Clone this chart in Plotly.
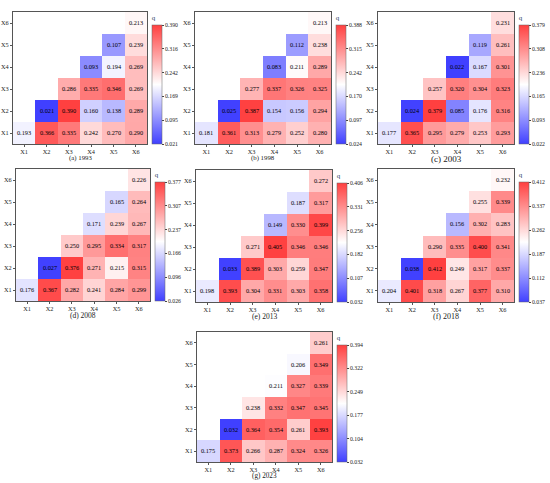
import plotly.graph_objects as go

labels = ["X1", "X2", "X3", "X4", "X5", "X6"]
titles = ["(a) 1993", "(b) 1998", "(c) 2003", "(d) 2008", "(e) 2013", "(f) 2018", "(g) 2023"]

q1993 = [[0.193, 0.366, 0.335, 0.242, 0.270, 0.290],
         [None, 0.021, 0.390, 0.160, 0.138, 0.289],
         [None, None, 0.286, 0.335, 0.346, 0.269],
         [None, None, None, 0.093, 0.194, 0.269],
         [None, None, None, None, 0.107, 0.239],
         [None, None, None, None, None, 0.213]]
q1998 = [[0.181, 0.361, 0.313, 0.279, 0.252, 0.280],
         [None, 0.025, 0.387, 0.154, 0.156, 0.294],
         [None, None, 0.277, 0.337, 0.326, 0.325],
         [None, None, None, 0.083, 0.211, 0.289],
         [None, None, None, None, 0.112, 0.238],
         [None, None, None, None, None, 0.213]]
q2003 = [[0.177, 0.365, 0.295, 0.279, 0.253, 0.293],
         [None, 0.024, 0.379, 0.085, 0.176, 0.316],
         [None, None, 0.257, 0.320, 0.304, 0.323],
         [None, None, None, 0.022, 0.167, 0.301],
         [None, None, None, None, 0.119, 0.261],
         [None, None, None, None, None, 0.231]]
q2008 = [[0.176, 0.367, 0.282, 0.241, 0.284, 0.299],
         [None, 0.027, 0.376, 0.271, 0.215, 0.315],
         [None, None, 0.250, 0.295, 0.334, 0.317],
         [None, None, None, 0.171, 0.239, 0.267],
         [None, None, None, None, 0.165, 0.264],
         [None, None, None, None, None, 0.226]]
q2013 = [[0.198, 0.393, 0.304, 0.331, 0.303, 0.358],
         [None, 0.033, 0.389, 0.303, 0.259, 0.347],
         [None, None, 0.271, 0.405, 0.346, 0.346],
         [None, None, None, 0.149, 0.330, 0.399],
         [None, None, None, None, 0.187, 0.317],
         [None, None, None, None, None, 0.272]]
q2018 = [[0.204, 0.401, 0.318, 0.267, 0.377, 0.310],
         [None, 0.038, 0.412, 0.249, 0.317, 0.337],
         [None, None, 0.290, 0.335, 0.400, 0.341],
         [None, None, None, 0.156, 0.302, 0.283],
         [None, None, None, None, 0.255, 0.339],
         [None, None, None, None, None, 0.232]]
q2023 = [[0.175, 0.373, 0.266, 0.287, 0.324, 0.326],
         [None, 0.032, 0.364, 0.354, 0.261, 0.393],
         [None, None, 0.238, 0.332, 0.347, 0.345],
         [None, None, None, 0.211, 0.327, 0.339],
         [None, None, None, None, 0.206, 0.349],
         [None, None, None, None, None, 0.261]]
panels = [q1993, q1998, q2003, q2008, q2013, q2018, q2023]

# colorbar ranges (from colorbar labels)
cmins = [0.021, 0.024, 0.022, 0.026, 0.032, 0.037, 0.032]
cmaxs = [0.390, 0.388, 0.379, 0.377, 0.406, 0.412, 0.394]
cbar_ticks = [
    ["0.021", "0.095", "0.169", "0.242", "0.316", "0.390"],
    ["0.024", "0.097", "0.170", "0.242", "0.315", "0.388"],
    ["0.022", "0.093", "0.165", "0.236", "0.308", "0.379"],
    ["0.026", "0.096", "0.166", "0.237", "0.307", "0.377"],
    ["0.032", "0.107", "0.182", "0.256", "0.331", "0.406"],
    ["0.037", "0.112", "0.187", "0.262", "0.337", "0.412"],
    ["0.032", "0.104", "0.177", "0.249", "0.322", "0.394"],
]

W, H = 550, 483
# panel boxes in pixels: left, right, top, bottom
boxes = [
    (13, 147, 12, 144),
    (195, 331, 12, 144),
    (378, 514, 12, 144),
    (16, 150, 169, 301),
    (196, 332, 170, 302),
    (378, 514, 169, 302),
    (197, 332, 332, 462),
]
title_sizes = [6.8, 6.8, 9, 7.5, 7.5, 8, 7.2]

FONT = "Liberation Serif"
cscale = [[0.0, "rgb(64,64,255)"], [0.5, "rgb(255,255,255)"], [1.0, "rgb(255,64,64)"]]

fig = go.Figure()
layout = dict()
annotations = []
for i, (z, box) in enumerate(zip(panels, boxes)):
    l, r, t, b = box
    n = "" if i == 0 else str(i + 1)
    text = [["" if v is None else f"{v:.3f}" for v in row] for row in z]
    vmin, vmax = cmins[i], cmaxs[i]
    tickvals = [vmin + (vmax - vmin) * k / 5 for k in range(6)]
    fig.add_trace(go.Heatmap(
        z=z, x=labels, y=labels, text=text, texttemplate="%{text}",
        textfont=dict(family=FONT, size=6.3, color="black"),
        colorscale=cscale, zmin=vmin, zmax=vmax, hoverongaps=False,
        xaxis="x" + n, yaxis="y" + n, xgap=0, ygap=0,
        colorbar=dict(
            x=(r + 5) / W, xanchor="left", xref="paper", xpad=0, ypad=0,
            y=1 - (t + b) / 2 / H, yanchor="middle",
            len=(b - t) / H, lenmode="fraction", thickness=10,
            outlinewidth=0.5, outlinecolor="#666",
            tickvals=tickvals, ticktext=cbar_ticks[i], ticks="outside", ticklen=2,
            tickfont=dict(family=FONT, size=5.8, color="#222"),
            title=dict(text="q", side="top", font=dict(family=FONT, size=7)),
        ),
    ))
    ax = dict(domain=[l / W, r / W], anchor="y" + n, showline=True, mirror=True,
              linecolor="#555", linewidth=1, ticks="outside", ticklen=2, tickcolor="#555",
              ticklabelstandoff=-1,
              tickfont=dict(family=FONT, size=6.3, color="#222"), showgrid=False, zeroline=False)
    ay = dict(domain=[1 - b / H, 1 - t / H], anchor="x" + n, showline=True, mirror=True,
              linecolor="#555", linewidth=1, ticks="outside", ticklen=2, tickcolor="#555",
              tickfont=dict(family=FONT, size=6.3, color="#222"), showgrid=False, zeroline=False)
    layout["xaxis" + n] = ax
    layout["yaxis" + n] = ay
    annotations.append(dict(text=titles[i], x=(l + r) / 2 / W,
                            y=1 - (b + 11 + 0.45 * title_sizes[i]) / H,
                            xref="paper", yref="paper", xanchor="center", yanchor="middle",
                            showarrow=False, font=dict(family=FONT, size=title_sizes[i], color="#222")))

fig.update_layout(**layout)
fig.update_layout(width=W, height=H, margin=dict(l=0, r=0, t=0, b=0, autoexpand=False),
                  paper_bgcolor="white", plot_bgcolor="white",
                  annotations=annotations, font=dict(family=FONT))
fig.write_html("out.html", config={"displayModeBar": False},
               post_script="document.body.style.margin='0';document.body.style.overflow='hidden';")
